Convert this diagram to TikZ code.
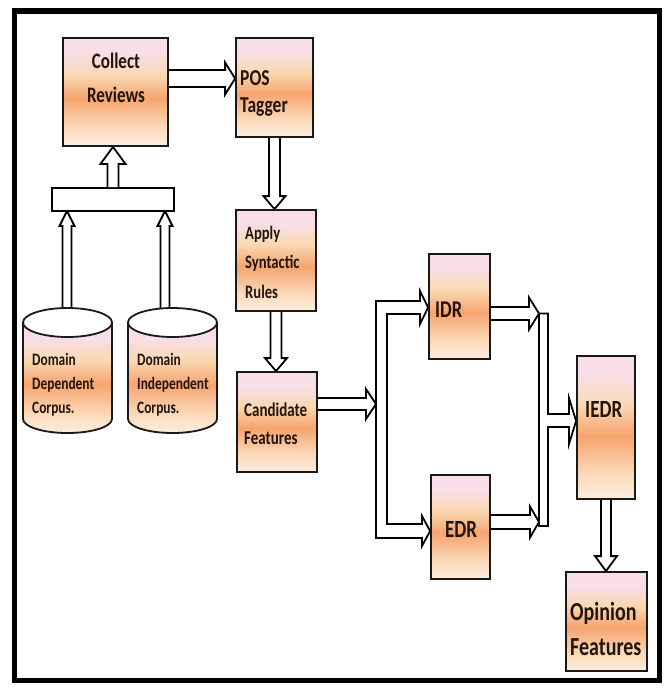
\documentclass[tikz,border=0pt]{standalone}
\usepackage{fontspec}
\setmainfont{Carlito}
\usepackage{graphicx}
\usetikzlibrary{calc}

\definecolor{shTop}{HTML}{F8DEE6}
\definecolor{shUp}{HTML}{FAD8B4}
\definecolor{shMid}{HTML}{F6A46E}
\definecolor{shLow}{HTML}{FBD9B8}
\definecolor{shBot}{HTML}{FDEDDF}
\definecolor{txtcol}{HTML}{21150D}

\pgfdeclareverticalshading{boxshade}{100bp}{color(0bp)=(shBot); color(25bp)=(shBot); color(34bp)=(shLow); color(47bp)=(shMid); color(58bp)=(shUp); color(68bp)=(shTop); color(100bp)=(shTop)}

\newcommand\txt[2]{\scalebox{1}[1.3]{\begin{tabular}[t]{@{}#1@{}}#2\end{tabular}}}

% horizontal hollow arrow: start, tip, shaft half, head half, head length
\newcommand\harr[5]{\draw[hollow] let \p1=(#1), \p2=(#2) in
  (\x1,\y2+#3pt) -- (\x2-#5pt,\y2+#3pt) -- (\x2-#5pt,\y2+#4pt) -- (\x2,\y2)
  -- (\x2-#5pt,\y2-#4pt) -- (\x2-#5pt,\y2-#3pt) -- (\x1,\y2-#3pt);}
% downward hollow arrow
\newcommand\darr[5]{\draw[hollow] let \p1=(#1), \p2=(#2) in
  (\x1+#3pt,\y1) -- (\x1+#3pt,\y2+#5pt) -- (\x1+#4pt,\y2+#5pt) -- (\x1,\y2)
  -- (\x1-#4pt,\y2+#5pt) -- (\x1-#3pt,\y2+#5pt) -- (\x1-#3pt,\y1);}
% upward hollow arrow
\newcommand\uarr[5]{\draw[hollow] let \p1=(#1), \p2=(#2) in
  (\x1+#3pt,\y1) -- (\x1+#3pt,\y2-#5pt) -- (\x1+#4pt,\y2-#5pt) -- (\x1,\y2)
  -- (\x1-#4pt,\y2-#5pt) -- (\x1-#3pt,\y2-#5pt) -- (\x1-#3pt,\y1);}

\tikzset{
  box/.style={rectangle, draw=black!90, line width=1.8pt, shading=boxshade, inner sep=0pt},
  lbl/.style={inner sep=0pt, text=txtcol, anchor=base west},
  hollow/.style={draw=black, fill=white, line width=1.8pt, line join=miter},
  cylbody/.style={draw=black!90, line width=1.8pt, shading=boxshade},
}

\begin{document}
\begin{tikzpicture}[x=1pt,y=-1pt]
\useasboundingbox (0,0) rectangle (666,689);
\fill[white] (0,0) rectangle (666,689);

% anchor coordinates for connectors
\coordinate (cyl1top) at (67,309);
\coordinate (cyl2top) at (165,309);
\coordinate (splitin) at (376,404);
\coordinate (mergeA) at (539,313.5);
\coordinate (mergeB) at (539,522);

% ---------- boxes (nodes) ----------
\path
  node[box, minimum width=105pt, minimum height=108pt] (collect) at (115.5,92) {}
  node[box, minimum width=77pt,  minimum height=99pt]  (pos)     at (274.5,87.5) {}
  node[box, minimum width=80pt,  minimum height=101pt] (apply)   at (276,260.5) {}
  node[box, minimum width=80pt,  minimum height=100pt] (cand)    at (277,422) {}
  node[box, minimum width=61pt,  minimum height=105pt] (idr)     at (459.5,306.5) {}
  node[box, minimum width=59pt,  minimum height=104pt] (edr)     at (460.5,527) {}
  node[box, minimum width=58pt,  minimum height=143pt] (iedr)    at (606,427.5) {}
  node[box, minimum width=81pt,  minimum height=99pt]  (opin)    at (606.5,621.5) {};

% ---------- connectors ----------
\harr{collect.east |- 0,78.5}{pos.west |- 0,78.5}{8.5}{16}{10}
\darr{pos.south}{apply.north}{5.5}{11}{13}
\darr{apply.south}{cand.north}{5.5}{11}{13}
\uarr{cyl1top}{cyl1top |- 0,211}{4.5}{7.5}{15}
\uarr{cyl2top}{cyl2top |- 0,211}{4.5}{7.5}{15}
\node[draw=black, line width=1.8pt, fill=white, minimum width=122pt, minimum height=23pt, inner sep=0pt] (bus) at (113,199.5) {};
\uarr{bus.north}{collect.south}{5.5}{12.5}{17}
\harr{cand.east |- 0,404}{splitin}{6}{15}{10}

% split bracket with arrows to IDR and EDR
\draw[hollow] (376,301) -- (420,301) -- (420,291) -- (idr.west |- 0,307.5) -- (420,324) -- (420,314)
  -- (387,314) -- (387,524) -- (422,524) -- (422,516) -- (edr.west |- 0,531) -- (422,546) -- (422,538)
  -- (376,538) -- cycle;

% merge bracket with arrow to IEDR
\draw[hollow] (539,313.5) -- (548,313.5) -- (548,414) -- (569,414) -- (569,398) -- (iedr.west |- 0,421)
  -- (569,444) -- (569,427) -- (548,427) -- (548,526) -- (539,526) -- cycle;
\harr{idr.east |- 0,313.5}{mergeA}{6.5}{16}{10}
\harr{edr.east |- 0,522}{mergeB}{7}{15.5}{9}
\darr{iedr.south}{opin.north}{5}{11}{15}

% redraw boxes on top of arrow ends
\path
  node[box, minimum width=105pt, minimum height=108pt] at (collect) {}
  node[box, minimum width=77pt,  minimum height=99pt]  at (pos) {}
  node[box, minimum width=80pt,  minimum height=101pt] at (apply) {}
  node[box, minimum width=80pt,  minimum height=100pt] at (cand) {}
  node[box, minimum width=61pt,  minimum height=105pt] at (idr) {}
  node[box, minimum width=59pt,  minimum height=104pt] at (edr) {}
  node[box, minimum width=58pt,  minimum height=143pt] at (iedr) {}
  node[box, minimum width=81pt,  minimum height=99pt]  at (opin) {};

% ---------- cylinders ----------
\path[cylbody] (23,322.5) -- (23,419) arc[start angle=180, end angle=360, x radius=44.5pt, y radius=14pt] -- (112,322.5) -- cycle;
\draw[black!90, line width=1.8pt, fill=white] (67.5,322.5) ellipse [x radius=44.5pt, y radius=14.5pt];
\path[cylbody] (128,322.5) -- (128,419) arc[start angle=180, end angle=360, x radius=44.5pt, y radius=14pt] -- (217,322.5) -- cycle;
\draw[black!90, line width=1.8pt, fill=white] (172.5,322.5) ellipse [x radius=44.5pt, y radius=14.5pt];

% ---------- labels ----------
\node[lbl, anchor=base, font=\fontsize{17}{26.2}\selectfont\bfseries] (collectT) at (116,68) {\txt{c}{Collect\\Reviews}};
\node[lbl, font=\fontsize{17.5}{21.5}\selectfont\bfseries] (posT) at (240,85) {\txt{l}{POS\\Tagger}};
\node[lbl, font=\fontsize{14.6}{22.7}\selectfont\bfseries] (applyT) at (245,239) {\txt{l}{Apply\\Syntactic\\Rules}};
\node[lbl, font=\fontsize{15}{22.3}\selectfont\bfseries] (candT) at (244,416) {\txt{l}{Candidate\\Features}};
\node[lbl, font=\fontsize{13.4}{18.5}\selectfont\bfseries] (dom1T) at (32,365) {\txt{l}{Domain\\Dependent\\Corpus.}};
\node[lbl, font=\fontsize{13.4}{18.5}\selectfont\bfseries] (dom2T) at (137,365) {\txt{l}{Domain\\Independent\\Corpus.}};
\node[lbl, font=\fontsize{18.5}{22}\selectfont\bfseries] (idrT) at (435,317) {\txt{l}{IDR}};
\node[lbl, font=\fontsize{19}{22}\selectfont\bfseries] (edrT) at (445,537) {\txt{l}{EDR}};
\node[lbl, font=\fontsize{19}{22}\selectfont\bfseries] (iedrT) at (585,417) {\txt{l}{IEDR}};
\node[lbl, font=\fontsize{20}{27}\selectfont\bfseries] (opinT) at (570,620) {\txt{l}{Opinion\\Features}};

% ---------- frame ----------
\draw[black, line width=5.5pt] (14.5,11) rectangle (659.5,680.5);
\end{tikzpicture}
\end{document}
